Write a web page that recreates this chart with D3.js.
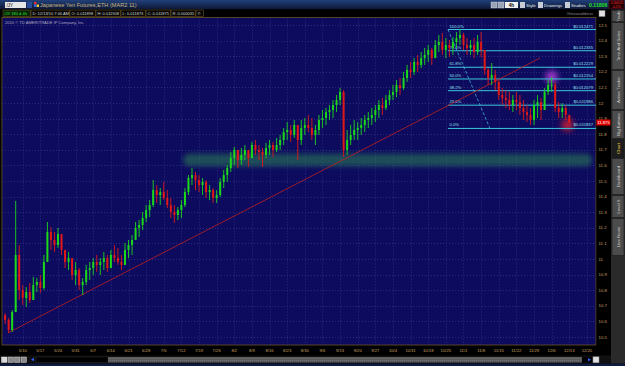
<!DOCTYPE html>
<html lang="en">
<head>
<meta charset="UTF-8">
<title>/JY 4h chart</title>
<script src="https://d3js.org/d3.v7.min.js"></script>
<style>
  body { margin: 0; background: #000; overflow: hidden; }
  svg { display: block; font-family: "Liberation Sans", Arial, sans-serif; }
</style>
</head>
<body>
<svg width="625" height="366"></svg>
<script>
// one bar per trading day, index 0 = Mon 5/3/10, last = Mon 12/13/10
const highs = [10.654,10.622,10.673,11.372,11.090,10.833,10.820,10.846,10.885,10.878,
  10.897,11.026,11.237,11.205,11.173,11.199,11.154,11.058,11.045,11.006,
  10.981,10.942,10.878,10.962,10.981,11.006,11.026,11.006,11.045,11.026,
  11.058,11.090,11.071,11.026,11.103,11.122,11.154,11.237,11.250,11.301,
  11.346,11.378,11.506,11.474,11.455,11.494,11.442,11.391,11.346,11.333,
  11.378,11.455,11.538,11.583,11.558,11.538,11.519,11.506,11.474,11.455,
  11.442,11.519,11.571,11.603,11.686,11.718,11.699,11.712,11.731,11.699,
  11.750,11.763,11.731,11.712,11.744,11.763,11.750,11.776,11.795,11.840,
  11.878,11.859,11.891,11.859,11.891,11.904,11.923,11.904,11.859,11.923,
  11.955,11.968,11.987,12.019,12.051,12.096,12.083,11.827,11.859,11.891,
  11.878,11.904,11.923,11.942,11.968,11.987,12.019,12.032,12.051,12.083,
  12.115,12.147,12.160,12.199,12.244,12.263,12.288,12.308,12.327,12.353,
  12.372,12.353,12.404,12.436,12.449,12.417,12.404,12.423,12.455,12.474,
  12.449,12.417,12.404,12.417,12.436,12.455,12.340,12.224,12.256,12.212,
  12.147,12.096,12.083,12.071,12.051,12.071,12.051,12.019,11.987,11.968,
  12.019,12.051,12.032,12.096,12.147,12.167,12.135,12.006,11.999,11.987,
  11.908];
const lows = [10.583,10.526,10.532,10.660,10.737,10.705,10.692,10.718,10.737,10.788,
  10.782,10.801,10.994,11.058,11.045,11.071,11.026,10.942,10.929,10.865,
  10.833,10.801,10.769,10.833,10.865,10.897,10.917,10.897,10.929,10.917,
  10.942,10.981,10.962,10.929,10.962,11.006,11.026,11.122,11.141,11.186,
  11.237,11.269,11.333,11.359,11.346,11.378,11.327,11.263,11.231,11.250,
  11.263,11.333,11.410,11.474,11.442,11.429,11.410,11.391,11.378,11.359,
  11.359,11.397,11.455,11.494,11.558,11.603,11.583,11.603,11.635,11.590,
  11.647,11.667,11.635,11.590,11.647,11.667,11.654,11.686,11.699,11.731,
  11.763,11.750,11.776,11.635,11.731,11.795,11.814,11.763,11.731,11.795,
  11.840,11.859,11.891,11.904,11.942,11.987,11.654,11.667,11.731,11.763,
  11.763,11.795,11.814,11.840,11.859,11.878,11.904,11.923,11.955,11.987,
  12.019,12.038,12.051,12.083,12.135,12.160,12.180,12.199,12.224,12.244,
  12.263,12.244,12.288,12.327,12.308,12.288,12.295,12.308,12.353,12.372,
  12.340,12.308,12.308,12.288,12.308,12.295,12.180,12.115,12.115,12.083,
  12.019,11.987,11.968,11.955,11.942,11.955,11.923,11.891,11.878,11.859,
  11.859,11.904,11.891,11.955,12.051,12.071,11.942,11.904,11.904,11.891,
  11.865];
const closes = [10.609,10.545,10.660,11.026,10.801,10.750,10.788,10.737,10.833,10.853,
  10.814,10.981,11.173,11.122,11.090,11.160,11.058,10.981,11.006,10.897,
  10.929,10.833,10.853,10.929,10.942,10.981,10.962,10.981,11.006,10.942,
  11.026,11.006,10.981,10.962,11.058,11.090,11.122,11.199,11.218,11.263,
  11.314,11.346,11.442,11.410,11.429,11.391,11.346,11.301,11.282,11.314,
  11.346,11.429,11.519,11.538,11.506,11.474,11.494,11.429,11.442,11.391,
  11.410,11.494,11.538,11.583,11.647,11.699,11.635,11.667,11.699,11.647,
  11.731,11.699,11.686,11.667,11.712,11.731,11.699,11.731,11.763,11.814,
  11.827,11.795,11.859,11.763,11.840,11.859,11.840,11.795,11.827,11.891,
  11.904,11.942,11.955,11.987,12.019,12.071,11.699,11.763,11.795,11.827,
  11.840,11.859,11.891,11.904,11.923,11.955,11.987,11.968,12.019,12.051,
  12.071,12.115,12.096,12.160,12.212,12.199,12.263,12.244,12.288,12.308,
  12.340,12.288,12.372,12.391,12.340,12.372,12.353,12.391,12.417,12.436,
  12.372,12.353,12.372,12.327,12.391,12.340,12.212,12.160,12.180,12.135,
  12.051,12.032,12.019,11.987,12.019,12.006,11.968,11.942,11.923,11.891,
  11.987,12.006,11.955,12.071,12.115,12.115,11.968,11.942,11.968,11.923,
  11.875];
const firstOpen = 10.640;

const weekLabels = ["5/10","5/17","5/24","5/31","6/7","6/14","6/21","6/28","7/5","7/12",
  "7/19","7/26","8/2","8/9","8/16","8/23","8/30","9/6","9/13","9/20","9/27","10/4",
  "10/11","10/18","10/25","11/1","11/8","11/15","11/22","11/29","12/6","12/13","12/20"];
const priceTicks = [12.5,12.4,12.3,12.2,12.1,12.0,11.9,11.8,11.7,11.6,11.5,11.4,11.3,
  11.2,11.1,11.0,10.9,10.8,10.7,10.6,10.5];

const fibPct = ["100.0%","78.6%","61.8%","50.0%","38.2%","23.6%","0.0%"];
const fibPrice = [12.471,12.335,12.229,12.154,12.079,11.986,11.837];
const fibLabel = ["$0.012471","$0.012335","$0.012229","$0.012154","$0.012079","$0.011986","$0.011837"];
const fibStartIdx = 125.6, fibDiagEndIdx = 137.5;

const trendIdx = [0.8, 151.7];
const trendPrice = [10.526, 12.288];
const bandIdx = [50.5, 166.5];
const bandPrice = [11.675, 11.595];
const glowPurple = [155, 12.167];
const glowRed = [159.5, 11.859];
const lastPrice = 11.875;

const headerFields = ["/JY 180 d 4h","D: 12/13/10 7:00 AM","O: 0.011898","H: 0.011908",
  "L: 0.011873","C: 0.011875","R: 0.000035","Y:"];
const headerX = [3, 31, 70, 96, 121, 146, 171, 196, 204];
const tabNames = ["Trade","Time And Sales","Active Trader","Big Buttons","Chart","Dashboard","Level II","Live News"];
const tabEdges = [0, 22, 70, 110, 139, 158, 195, 218, 256];

const svg = d3.select("svg");
const chart = { left: 2, right: 596, top: 17.5, bottom: 345 };

const x = d3.scaleLinear().domain([0, 165]).range([5.1, 586.9]);
const y = d3.scaleLinear().domain([10.5, 12.5]).range([337, 25]);

// background
svg.append("rect").attr("width", 625).attr("height", 366).attr("fill", "#000");

// ---- top title bar
const defs = svg.append("defs");
const tg = defs.append("linearGradient").attr("id", "topg").attr("x1", 0).attr("y1", 0).attr("x2", 0).attr("y2", 1);
tg.append("stop").attr("offset", "0%").attr("stop-color", "#22407a");
tg.append("stop").attr("offset", "100%").attr("stop-color", "#0b1633");
svg.append("rect").attr("width", 625).attr("height", 9.5).attr("fill", "url(#topg)");
svg.append("rect").attr("x", 5).attr("y", 2).attr("width", 21).attr("height", 6).attr("fill", "#e6e6e6");
svg.append("text").attr("x", 6.5).attr("y", 7).attr("font-size", 4.5).attr("fill", "#000").text("/JY");
svg.append("rect").attr("x", 27).attr("y", 2).attr("width", 5).attr("height", 6).attr("fill", "#2a4c96");
svg.append("rect").attr("x", 34).attr("y", 2).attr("width", 2.5).attr("height", 2.5).attr("fill", "#e03030");
svg.append("rect").attr("x", 36.5).attr("y", 4.5).attr("width", 2.5).attr("height", 2.5).attr("fill", "#f0d020");
svg.append("rect").attr("x", 34).attr("y", 4.5).attr("width", 2.5).attr("height", 2.5).attr("fill", "#3060e0");
svg.append("text").attr("x", 40).attr("y", 7.3).attr("font-size", 5.6).attr("fill", "#c8b27a")
  .text("Japanese Yen Futures,ETH (MAR2 11)");

// right side buttons
[[491, 6], [498, 6]].forEach(b => {
  svg.append("rect").attr("x", b[0]).attr("y", 2).attr("width", b[1]).attr("height", 6)
    .attr("fill", "#9aa4b4").attr("stroke", "#dde").attr("stroke-width", 0.4);
});
svg.append("rect").attr("x", 505).attr("y", 2).attr("width", 13).attr("height", 6).attr("fill", "#f0f0f0");
svg.append("text").attr("x", 511.5).attr("y", 6.8).attr("text-anchor", "middle").attr("font-size", 4.6)
  .attr("font-weight", "bold").attr("fill", "#000").text("4h");
[["Style", 520], ["Drawings", 538], ["Studies", 565]].forEach(b => {
  svg.append("rect").attr("x", b[1]).attr("y", 2).attr("width", 5).attr("height", 6).attr("fill", "#c8ccd4");
  svg.append("text").attr("x", b[1] + 6).attr("y", 6.8).attr("font-size", 4.4).attr("fill", "#e8e8e8").text(b[0]);
});
svg.append("text").attr("x", 589).attr("y", 7).attr("font-size", 5.2).attr("font-weight", "bold")
  .attr("fill", "#22e022").text("0.11806");
svg.append("rect").attr("x", 609).attr("y", 0.5).attr("width", 15).attr("height", 8).attr("fill", "#1a0000")
  .attr("stroke", "#600").attr("stroke-width", 0.5);
svg.append("text").attr("x", 616.5).attr("y", 3.8).attr("text-anchor", "middle").attr("font-size", 2.8)
  .attr("fill", "#ff3030").text("-0.000025");
svg.append("text").attr("x", 616.5).attr("y", 7.5).attr("text-anchor", "middle").attr("font-size", 2.8)
  .attr("fill", "#ff3030").text("-0.21%");

// ---- info row
svg.append("rect").attr("x", 0).attr("y", 9.5).attr("width", 611).attr("height", 8).attr("fill", "#000");
headerFields.forEach((t, i) => {
  svg.append("rect").attr("x", headerX[i]).attr("y", 10).attr("width", headerX[i + 1] - headerX[i] - 0.5)
    .attr("height", 6.5).attr("fill", i === 0 ? "#062406" : "#050505")
    .attr("stroke", "#6a5222").attr("stroke-width", 0.6);
  svg.append("text").attr("x", headerX[i] + 1.5).attr("y", 15).attr("font-size", 4)
    .attr("fill", i === 0 ? "#30e030" : "#d8d8d8").text(t);
});
svg.append("text").attr("x", 593).attr("y", 15).attr("text-anchor", "end").attr("font-size", 3.8)
  .attr("fill", "#8a8a8a").text("#thesaxaddress");
svg.append("rect").attr("x", 599).attr("y", 10.5).attr("width", 6).attr("height", 6).attr("fill", "#e0e0e0")
  .attr("stroke", "#888").attr("stroke-width", 0.5);

// ---- chart area
svg.append("rect").attr("x", chart.left).attr("y", chart.top)
  .attr("width", chart.right - chart.left).attr("height", chart.bottom - chart.top)
  .attr("fill", "#0d0b5e").attr("stroke", "#6e5424").attr("stroke-width", 0.8);

defs.append("clipPath").attr("id", "clip").append("rect")
  .attr("x", chart.left).attr("y", chart.top)
  .attr("width", chart.right - chart.left).attr("height", chart.bottom - chart.top);
defs.append("filter").attr("id", "blur").attr("x", "-20%").attr("y", "-100%").attr("width", "140%").attr("height", "300%")
  .append("feGaussianBlur").attr("stdDeviation", 2.4);
defs.append("filter").attr("id", "glow").attr("x", "-100%").attr("y", "-100%").attr("width", "300%").attr("height", "300%")
  .append("feGaussianBlur").attr("stdDeviation", 3);

const plot = svg.append("g").attr("clip-path", "url(#clip)");

// grid
const tickIdx = weekLabels.map((d, i) => 5 + i * 5);
plot.append("g").selectAll("line").data(tickIdx).join("line")
  .attr("x1", d => Math.round(x(d)) + 0.5).attr("x2", d => Math.round(x(d)) + 0.5)
  .attr("y1", chart.top).attr("y2", chart.bottom)
  .attr("stroke", "#34348a").attr("stroke-width", 0.8).attr("stroke-dasharray", "1,2");
plot.append("g").selectAll("line").data(priceTicks).join("line")
  .attr("x1", chart.left).attr("x2", chart.right)
  .attr("y1", d => Math.round(y(d)) + 0.5).attr("y2", d => Math.round(y(d)) + 0.5)
  .attr("stroke", "#34348a").attr("stroke-width", 0.8).attr("stroke-dasharray", "1,2");

// support band
plot.append("rect")
  .attr("x", x(bandIdx[0])).attr("y", y(bandPrice[0]))
  .attr("width", x(bandIdx[1]) - x(bandIdx[0])).attr("height", y(bandPrice[1]) - y(bandPrice[0]))
  .attr("rx", 6).attr("fill", "#2a7a56").attr("opacity", 0.6).attr("filter", "url(#blur)");

// glows
plot.append("circle").attr("cx", x(glowPurple[0])).attr("cy", y(glowPurple[1])).attr("r", 6)
  .attr("fill", "#c040e0").attr("opacity", 0.9).attr("filter", "url(#glow)");
plot.append("circle").attr("cx", x(glowRed[0])).attr("cy", y(glowRed[1])).attr("r", 6)
  .attr("fill", "#e02030").attr("opacity", 0.85).attr("filter", "url(#glow)");

// fib retracement
const fibX0 = x(fibStartIdx);
plot.append("g").selectAll("line").data(fibPrice).join("line")
  .attr("x1", fibX0).attr("x2", chart.right)
  .attr("y1", d => y(d)).attr("y2", d => y(d))
  .attr("stroke", "#3cc8dc").attr("stroke-width", 1);
plot.append("g").selectAll("text").data(fibPct).join("text")
  .attr("x", fibX0 + 1.5).attr("y", (d, i) => y(fibPrice[i]) - 2)
  .attr("font-size", 4.2).attr("fill", "#8fe0ef").text(d => d);
plot.append("g").selectAll("text").data(fibLabel).join("text")
  .attr("x", chart.right - 3).attr("y", (d, i) => y(fibPrice[i]) - 2).attr("text-anchor", "end")
  .attr("font-size", 4.2).attr("fill", "#8fe0ef").text(d => d);
plot.append("line")
  .attr("x1", fibX0).attr("y1", y(fibPrice[0])).attr("x2", x(fibDiagEndIdx)).attr("y2", y(fibPrice[6]))
  .attr("stroke", "#3cb4d0").attr("stroke-width", 0.8).attr("stroke-dasharray", "3,2");

// trendline
plot.append("line")
  .attr("x1", x(trendIdx[0])).attr("y1", y(trendPrice[0]))
  .attr("x2", x(trendIdx[1])).attr("y2", y(trendPrice[1]))
  .attr("stroke", "#c02020").attr("stroke-width", 0.8);

// candles
const bars = closes.map((c, i) => ({
  i, open: i === 0 ? firstOpen : closes[i - 1], close: c, high: highs[i], low: lows[i]
}));
const col = d => d.close >= d.open ? "#1cd81c" : "#e01818";
const cg = plot.append("g").selectAll("g").data(bars).join("g");
cg.append("line")
  .attr("x1", d => x(d.i)).attr("x2", d => x(d.i))
  .attr("y1", d => y(d.high)).attr("y2", d => y(d.low))
  .attr("stroke", col).attr("stroke-width", 0.9);
cg.append("rect")
  .attr("x", d => x(d.i) - 1).attr("width", 2)
  .attr("y", d => y(Math.max(d.open, d.close)))
  .attr("height", d => Math.max(1, Math.abs(y(d.open) - y(d.close))))
  .attr("fill", col);

// ---- price axis
svg.append("rect").attr("x", 596.5).attr("y", 17.5).attr("width", 14.5).attr("height", 338).attr("fill", "#000");
svg.append("g").selectAll("text").data(priceTicks).join("text")
  .attr("x", 598.5).attr("y", d => y(d) + 1.5)
  .attr("font-size", 4.3).attr("fill", "#c9a066")
  .text(d => d3.format("~g")(d));
svg.append("rect").attr("x", 596.5).attr("y", y(lastPrice) - 3).attr("width", 14).attr("height", 6).attr("fill", "#e00000");
svg.append("text").attr("x", 603.5).attr("y", y(lastPrice) + 1.6).attr("text-anchor", "middle")
  .attr("font-size", 4.2).attr("fill", "#fff").text(d3.format(".3f")(lastPrice));

// ---- x axis
svg.append("g").selectAll("text").data(weekLabels).join("text")
  .attr("x", (d, i) => x(tickIdx[i])).attr("y", 352)
  .attr("text-anchor", "middle").attr("font-size", 4.2).attr("fill", "#c9a066")
  .text(d => d);

// ---- scrollbar
svg.append("rect").attr("x", 0).attr("y", 355.5).attr("width", 611).attr("height", 8).attr("fill", "#101010");
[1.5, 8, 14.5, 21].forEach((bx, k) => {
  svg.append("rect").attr("x", bx).attr("y", 357).attr("width", 5.5).attr("height", 5.5)
    .attr("fill", k === 0 ? "#d8d8d8" : "#8a8a8a").attr("stroke", "#eee").attr("stroke-width", 0.4);
});
svg.append("path").attr("d", "M31,359.5 L34,357.8 L34,361.2 Z").attr("fill", "#2c5cff");
svg.append("rect").attr("x", 36).attr("y", 357).attr("width", 72).attr("height", 5.5).attr("fill", "#000")
  .attr("stroke", "#333").attr("stroke-width", 0.4);
const pat = defs.append("pattern").attr("id", "hatch").attr("width", 2).attr("height", 2).attr("patternUnits", "userSpaceOnUse");
pat.append("rect").attr("width", 2).attr("height", 2).attr("fill", "#5a5a5a");
pat.append("rect").attr("width", 1).attr("height", 1).attr("fill", "#707070");
svg.append("rect").attr("x", 108).attr("y", 357).attr("width", 474).attr("height", 5.5).attr("fill", "url(#hatch)");
svg.append("rect").attr("x", 582).attr("y", 357).attr("width", 10).attr("height", 5.5).attr("fill", "#000");
svg.append("path").attr("d", "M591,359.7 L588,358 L588,361.4 Z").attr("fill", "#2c5cff");
svg.append("rect").attr("x", 593).attr("y", 356.8).attr("width", 6).attr("height", 6).attr("fill", "#e0e0e0")
  .attr("stroke", "#888").attr("stroke-width", 0.5);
svg.append("rect").attr("x", 0).attr("y", 363.5).attr("width", 625).attr("height", 2.5).attr("fill", "#0e1a40");

// ---- right tab strip
svg.append("rect").attr("x", 611).attr("y", 9.5).attr("width", 14).attr("height", 354).attr("fill", "#2a2a2a");
tabNames.forEach((t, i) => {
  const y0 = tabEdges[i] + (i === 0 ? 10 : 0), y1 = tabEdges[i + 1];
  const on = t === "Chart";
  svg.append("rect").attr("x", 612).attr("y", y0 + 0.5).attr("width", 12).attr("height", y1 - y0 - 1)
    .attr("fill", on ? "#1e1e1e" : "#4c4c4c").attr("stroke", "#1a1a1a").attr("stroke-width", 0.6);
  svg.append("text")
    .attr("transform", `translate(619.5,${(y0 + y1) / 2}) rotate(-90)`)
    .attr("text-anchor", "middle").attr("font-size", 4.4)
    .attr("fill", on ? "#e8c840" : "#d0d0d0").text(t);
});
svg.append("text").attr("x", 5).attr("y", 23.5).attr("font-size", 4.1).attr("fill", "#a8a8c0")
  .text("2010 \u00a9 TD AMERITRADE IP Company, Inc.");
</script>
</body>
</html>
